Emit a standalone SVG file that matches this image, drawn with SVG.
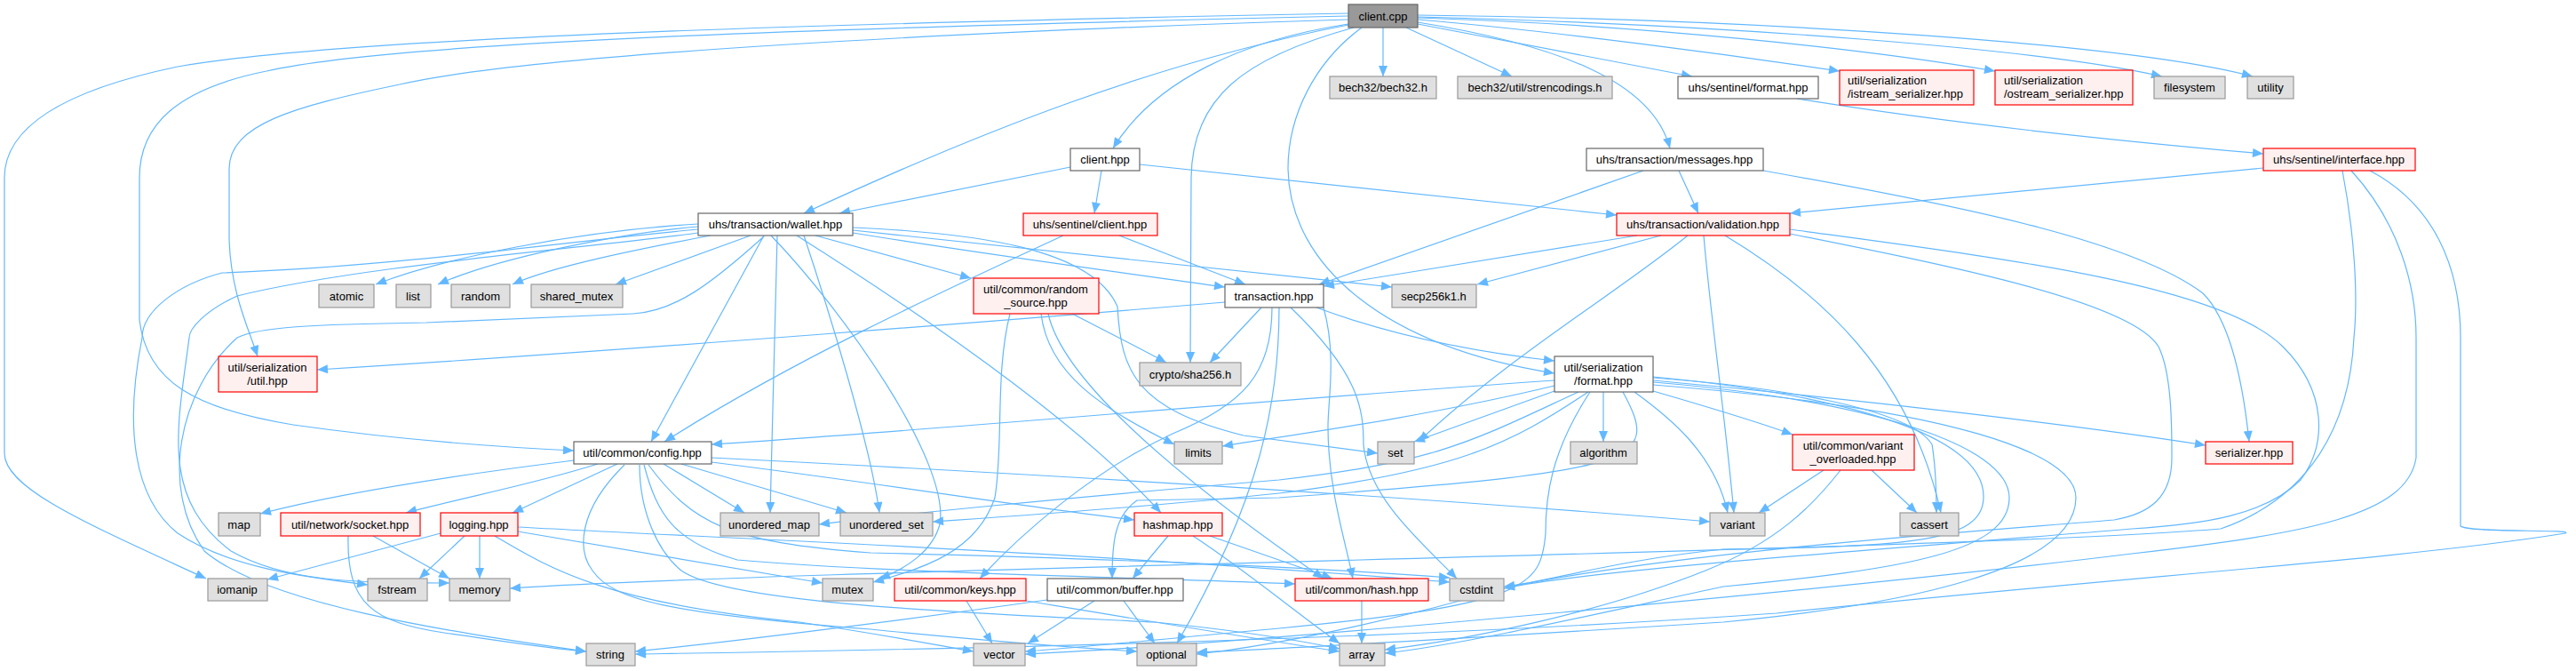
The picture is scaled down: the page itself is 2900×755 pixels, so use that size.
<svg xmlns="http://www.w3.org/2000/svg" width="2900" height="755" viewBox="0 0 2900 755">
<style>
.e{fill:none;stroke:#63b8ff;stroke-width:1.2;marker-end:url(#ah)}
.n text{font-family:"Liberation Sans",Arial,sans-serif;font-size:13px;text-anchor:middle;fill:#000}
.root rect{fill:#999999;stroke:#666666}
.w rect{fill:#ffffff;stroke:#666666}
.r rect{fill:#fff0f0;stroke:#ff0000}
.g rect{fill:#e0e0e0;stroke:#999999}
rect{stroke-width:1.2}
</style>
<defs>
<marker id="ah" viewBox="0 0 12 10" refX="12" refY="5" markerWidth="13" markerHeight="10" orient="auto" markerUnits="userSpaceOnUse"><path d="M0,0 L12,5 L0,10 z" fill="#63b8ff"/></marker>
</defs>
<rect width="2900" height="755" fill="#ffffff"/>
<g id="edges">
<path class="e" d="M1518,27 C1400,45 1300,90 1253,167"/>
<path class="e" d="M1557,31 L1557,86"/>
<path class="e" d="M1583,31 L1702,86"/>
<path class="e" d="M1596,27 L1905,86"/>
<path class="e" d="M1596,22 C1750,35 1950,62 2071,80"/>
<path class="e" d="M1596,20 C1850,28 2100,55 2246,80"/>
<path class="e" d="M1596,19 C1950,28 2300,55 2434,86"/>
<path class="e" d="M1596,17 C2000,22 2400,50 2536,86"/>
<path class="e" d="M1596,25 C1750,50 1860,90 1880,167"/>
<path class="e" d="M1518,28 C1300,70 1100,150 905,240"/>
<path class="e" d="M1524,31 C1400,65 1342,110 1341,200 L1340,408"/>
<path class="e" d="M1533,31 C1480,70 1450,130 1450,190 C1452,300 1560,390 1750,420"/>
<path class="e" d="M1518,22 C1100,35 600,60 450,95 C330,120 258,140 258,190 L258,270 C260,330 280,370 290,401"/>
<path class="e" d="M1518,18 C1000,30 450,45 300,80 C200,100 157,140 157,200 L157,360 C165,430 220,460 330,478 C450,495 560,503 646,507"/>
<path class="e" d="M1518,15 C1000,25 400,40 200,75 C80,100 5,140 5,200 L5,510 C5,550 100,590 232,651"/>
<path class="e" d="M1205,188 L945,240"/>
<path class="e" d="M1240,192 L1232,240"/>
<path class="e" d="M1283,185 L1820,242"/>
<path class="e" d="M2023,111 C2200,140 2400,160 2548,173"/>
<path class="e" d="M1890,192 L1912,240"/>
<path class="e" d="M1850,192 L1485,320"/>
<path class="e" d="M1985,192 C2200,230 2400,270 2480,330 C2510,360 2525,430 2532,497"/>
<path class="e" d="M2548,189 L2015,240"/>
<path class="e" d="M2637,192 C2650,260 2655,330 2650,380 C2645,480 2600,560 2500,595 C2200,620 900,640 574,662"/>
<path class="e" d="M2647,192 C2700,250 2720,320 2720,380 L2720,515 C2710,580 2600,600 2400,623 C2100,660 1400,725 1154,736"/>
<path class="e" d="M2668,192 C2740,230 2770,300 2770,380 L2770,592 C2780,600 2900,595 2888,600 C2700,630 2400,648 2000,690 C1500,725 900,733 715,736"/>
<path class="e" d="M1260,265 L1402,320"/>
<path class="e" d="M1197,265 C1100,310 900,400 748,497"/>
<path class="e" d="M786,252 C650,260 500,290 423,320"/>
<path class="e" d="M786,255 C700,262 560,290 493,320"/>
<path class="e" d="M800,265 C720,280 620,300 577,320"/>
<path class="e" d="M845,265 L693,320"/>
<path class="e" d="M918,265 L1093,313"/>
<path class="e" d="M960,262 C1100,285 1250,305 1379,323"/>
<path class="e" d="M960,259 C1200,285 1450,310 1567,323"/>
<path class="e" d="M960,256 C1100,262 1230,280 1258,345 C1262,420 1280,460 1400,490 L1551,510"/>
<path class="e" d="M860,265 L733,497"/>
<path class="e" d="M875,265 L867,577"/>
<path class="e" d="M905,265 C930,340 980,500 990,577"/>
<path class="e" d="M897,265 C1000,330 1200,460 1307,577"/>
<path class="e" d="M868,265 C950,350 1070,520 1058,590 C1050,620 1020,640 990,651"/>
<path class="e" d="M786,258 C650,270 450,300 250,307 C200,320 160,350 160,380 C140,480 150,560 200,600 C260,640 350,650 414,658"/>
<path class="e" d="M786,262 C650,280 400,300 267,333 C230,350 213,370 213,380 C200,480 180,560 260,620 C330,660 430,655 506,656"/>
<path class="e" d="M860,266 C800,320 760,350 713,353 L480,363 C350,365 290,368 267,380 C200,440 180,550 230,620 C300,680 500,710 660,733"/>
<path class="e" d="M1379,340 C1200,355 700,395 357,416"/>
<path class="e" d="M1420,346 L1362,408"/>
<path class="e" d="M1482,346 C1560,375 1650,395 1750,406"/>
<path class="e" d="M1432,346 C1432,420 1400,455 1320,488 C1230,530 1150,600 1103,651"/>
<path class="e" d="M1440,346 C1440,450 1420,560 1325,724"/>
<path class="e" d="M1490,346 C1505,400 1495,450 1495,480 C1495,550 1515,610 1523,651"/>
<path class="e" d="M1453,346 C1530,420 1535,460 1535,500 C1540,560 1600,610 1640,651"/>
<path class="e" d="M1207,353 C1240,370 1280,390 1313,408"/>
<path class="e" d="M1172,353 C1180,420 1240,460 1322,500"/>
<path class="e" d="M1180,353 C1195,420 1300,520 1490,651"/>
<path class="e" d="M1137,353 C1120,420 1130,500 1120,560 C1100,620 1040,640 983,655"/>
<path class="e" d="M1843,265 L1490,322"/>
<path class="e" d="M1870,265 L1663,320"/>
<path class="e" d="M1900,265 C1820,330 1700,400 1597,497"/>
<path class="e" d="M1918,265 C1925,350 1940,450 1952,577"/>
<path class="e" d="M1942,265 C2050,330 2150,420 2185,577"/>
<path class="e" d="M2015,263 C2200,300 2400,340 2430,390 C2445,420 2445,480 2445,515 C2445,560 2420,578 2380,585 C2200,600 1900,620 1700,660 C1600,690 1450,725 1347,736"/>
<path class="e" d="M2015,258 C2250,290 2500,320 2570,390 C2620,440 2620,500 2590,540 C2550,580 2480,590 2400,595 C2100,620 1800,640 1693,662"/>
<path class="e" d="M1750,428 C1400,452 1000,488 801,500"/>
<path class="e" d="M1750,434 C1600,470 1450,490 1376,502"/>
<path class="e" d="M1750,440 L1592,497"/>
<path class="e" d="M1805,441 L1805,497"/>
<path class="e" d="M1861,440 C1930,460 1980,475 2018,489"/>
<path class="e" d="M1861,428 C2100,450 2350,480 2483,501"/>
<path class="e" d="M1840,441 C1880,470 1930,510 1945,577"/>
<path class="e" d="M1861,425 C2000,435 2150,460 2175,500 C2180,530 2180,560 2180,577"/>
<path class="e" d="M1777,441 C1660,495 1620,520 1440,540 C1200,560 1000,580 922,590"/>
<path class="e" d="M1788,441 C1700,500 1640,530 1440,555 C1300,570 1150,580 1050,587"/>
<path class="e" d="M1827,441 C1870,520 1850,530 1440,560 L1280,563 C1255,580 1252,610 1252,651"/>
<path class="e" d="M1790,441 C1745,510 1740,560 1740,600 C1735,660 1720,680 1440,707 C1300,720 1200,730 1154,733"/>
<path class="e" d="M1861,424 C2080,445 2235,490 2233,560 C2232,610 2150,615 1940,618 C1820,630 1740,655 1693,660"/>
<path class="e" d="M1861,430 C2100,450 2262,500 2262,560 C2262,620 2150,640 1940,660 C1800,690 1650,725 1559,735"/>
<path class="e" d="M1861,433 C2200,460 2337,510 2337,560 C2337,640 2150,680 1940,700 C1700,715 1450,730 1347,734"/>
<path class="e" d="M2053,529 L1980,577"/>
<path class="e" d="M2107,529 L2158,577"/>
<path class="e" d="M2072,529 C2040,570 2000,610 1920,642 C1800,690 1650,720 1559,731"/>
<path class="e" d="M646,518 C550,530 400,550 293,578"/>
<path class="e" d="M673,522 C600,545 520,560 457,577"/>
<path class="e" d="M695,522 L577,577"/>
<path class="e" d="M747,522 L838,577"/>
<path class="e" d="M767,522 L953,577"/>
<path class="e" d="M801,515 C1200,535 1600,560 1925,587"/>
<path class="e" d="M801,520 C1000,545 1150,570 1277,585"/>
<path class="e" d="M703,523 C650,575 650,620 667,642 C690,675 750,690 980,708 C1100,720 1200,728 1280,733"/>
<path class="e" d="M720,523 C720,575 740,620 767,642 C820,680 1100,690 1300,700 C1400,710 1460,720 1508,730"/>
<path class="e" d="M725,523 C740,580 760,610 830,630 C1000,645 1300,650 1458,657"/>
<path class="e" d="M730,523 C780,590 820,610 980,622 C1300,630 1500,640 1632,650"/>
<path class="e" d="M496,600 L301,652"/>
<path class="e" d="M523,603 L472,651"/>
<path class="e" d="M540,603 L540,651"/>
<path class="e" d="M583,598 L926,656"/>
<path class="e" d="M557,603 C620,640 680,678 900,700 C1000,715 1050,725 1096,733"/>
<path class="e" d="M583,593 C800,605 1200,620 1632,655"/>
<path class="e" d="M420,603 L506,651"/>
<path class="e" d="M392,603 C390,680 420,700 500,712 C570,722 620,730 660,733"/>
<path class="e" d="M1088,676 L1117,724"/>
<path class="e" d="M1155,676 C1300,700 1420,720 1508,733"/>
<path class="e" d="M1232,676 L1157,724"/>
<path class="e" d="M1265,676 L1300,724"/>
<path class="e" d="M1179,675 C1000,700 800,725 715,733"/>
<path class="e" d="M1315,603 L1275,651"/>
<path class="e" d="M1362,603 L1500,651"/>
<path class="e" d="M1343,603 C1400,640 1460,690 1508,724"/>
<path class="e" d="M1533,676 L1533,724"/>
</g>
<g id="n_client_cpp" class="n root"><rect x="1518" y="5" width="78" height="26"/><text x="1557" y="23">client.cpp</text></g>
<g id="n_bech32" class="n g"><rect x="1497" y="86" width="120" height="25"/><text x="1557" y="103">bech32/bech32.h</text></g>
<g id="n_strenc" class="n g"><rect x="1641" y="86" width="174" height="25"/><text x="1728" y="103">bech32/util/strencodings.h</text></g>
<g id="n_sent_format" class="n w"><rect x="1889" y="86" width="158" height="25"/><text x="1968" y="103">uhs/sentinel/format.hpp</text></g>
<g id="n_istream" class="n r"><rect x="2071" y="79" width="151" height="39"/><text x="2080" y="95" style="text-anchor:start">util/serialization</text><text x="2080" y="110" style="text-anchor:start">/istream_serializer.hpp</text></g>
<g id="n_ostream" class="n r"><rect x="2246" y="79" width="155" height="39"/><text x="2256" y="95" style="text-anchor:start">util/serialization</text><text x="2256" y="110" style="text-anchor:start">/ostream_serializer.hpp</text></g>
<g id="n_filesystem" class="n g"><rect x="2425" y="86" width="80" height="25"/><text x="2465" y="103">filesystem</text></g>
<g id="n_utility" class="n g"><rect x="2530" y="86" width="52" height="25"/><text x="2556" y="103">utility</text></g>
<g id="n_client_hpp" class="n w"><rect x="1205" y="167" width="78" height="25"/><text x="1244" y="184">client.hpp</text></g>
<g id="n_messages" class="n w"><rect x="1786" y="167" width="199" height="25"/><text x="1885" y="184">uhs/transaction/messages.hpp</text></g>
<g id="n_interface" class="n r"><rect x="2548" y="167" width="171" height="25"/><text x="2633" y="184">uhs/sentinel/interface.hpp</text></g>
<g id="n_wallet" class="n w"><rect x="786" y="240" width="174" height="25"/><text x="873" y="257">uhs/transaction/wallet.hpp</text></g>
<g id="n_sent_client" class="n r"><rect x="1152" y="240" width="151" height="25"/><text x="1227" y="257">uhs/sentinel/client.hpp</text></g>
<g id="n_validation" class="n r"><rect x="1820" y="240" width="195" height="25"/><text x="1917" y="257">uhs/transaction/validation.hpp</text></g>
<g id="n_atomic" class="n g"><rect x="359" y="320" width="62" height="26"/><text x="390" y="338">atomic</text></g>
<g id="n_list" class="n g"><rect x="446" y="320" width="39" height="26"/><text x="465" y="338">list</text></g>
<g id="n_random" class="n g"><rect x="508" y="320" width="66" height="26"/><text x="541" y="338">random</text></g>
<g id="n_shared_mutex" class="n g"><rect x="598" y="320" width="103" height="26"/><text x="649" y="338">shared_mutex</text></g>
<g id="n_random_source" class="n r"><rect x="1096" y="313" width="141" height="40"/><text x="1166" y="330">util/common/random</text><text x="1166" y="345">_source.hpp</text></g>
<g id="n_transaction" class="n w"><rect x="1379" y="320" width="111" height="26"/><text x="1434" y="338">transaction.hpp</text></g>
<g id="n_secp" class="n g"><rect x="1567" y="320" width="95" height="26"/><text x="1614" y="338">secp256k1.h</text></g>
<g id="n_ser_util" class="n r"><rect x="246" y="401" width="111" height="40"/><text x="301" y="418">util/serialization</text><text x="301" y="433">/util.hpp</text></g>
<g id="n_format" class="n w"><rect x="1750" y="401" width="111" height="40"/><text x="1805" y="418">util/serialization</text><text x="1805" y="433">/format.hpp</text></g>
<g id="n_sha256" class="n g"><rect x="1283" y="408" width="114" height="26"/><text x="1340" y="426">crypto/sha256.h</text></g>
<g id="n_limits" class="n g"><rect x="1322" y="497" width="54" height="25"/><text x="1349" y="514">limits</text></g>
<g id="n_set" class="n g"><rect x="1551" y="497" width="41" height="25"/><text x="1571" y="514">set</text></g>
<g id="n_algorithm" class="n g"><rect x="1768" y="497" width="75" height="25"/><text x="1805" y="514">algorithm</text></g>
<g id="n_config" class="n w"><rect x="646" y="497" width="155" height="25"/><text x="723" y="514">util/common/config.hpp</text></g>
<g id="n_var_over" class="n r"><rect x="2018" y="489" width="137" height="40"/><text x="2086" y="506">util/common/variant</text><text x="2086" y="521">_overloaded.hpp</text></g>
<g id="n_serializer" class="n r"><rect x="2483" y="497" width="98" height="25"/><text x="2532" y="514">serializer.hpp</text></g>
<g id="n_map" class="n g"><rect x="246" y="577" width="47" height="26"/><text x="269" y="595">map</text></g>
<g id="n_socket" class="n r"><rect x="316" y="577" width="157" height="26"/><text x="394" y="595">util/network/socket.hpp</text></g>
<g id="n_logging" class="n r"><rect x="496" y="577" width="87" height="26"/><text x="539" y="595">logging.hpp</text></g>
<g id="n_umap" class="n g"><rect x="811" y="577" width="111" height="26"/><text x="866" y="595">unordered_map</text></g>
<g id="n_uset" class="n g"><rect x="946" y="577" width="104" height="26"/><text x="998" y="595">unordered_set</text></g>
<g id="n_hashmap" class="n r"><rect x="1277" y="577" width="99" height="26"/><text x="1326" y="595">hashmap.hpp</text></g>
<g id="n_variant" class="n g"><rect x="1925" y="577" width="62" height="26"/><text x="1956" y="595">variant</text></g>
<g id="n_cassert" class="n g"><rect x="2139" y="577" width="66" height="26"/><text x="2172" y="595">cassert</text></g>
<g id="n_iomanip" class="n g"><rect x="234" y="651" width="67" height="25"/><text x="267" y="668">iomanip</text></g>
<g id="n_fstream" class="n g"><rect x="414" y="651" width="67" height="25"/><text x="447" y="668">fstream</text></g>
<g id="n_memory" class="n g"><rect x="506" y="651" width="68" height="25"/><text x="540" y="668">memory</text></g>
<g id="n_mutex" class="n g"><rect x="926" y="651" width="57" height="25"/><text x="954" y="668">mutex</text></g>
<g id="n_keys" class="n r"><rect x="1007" y="651" width="148" height="25"/><text x="1081" y="668">util/common/keys.hpp</text></g>
<g id="n_buffer" class="n w"><rect x="1179" y="651" width="153" height="25"/><text x="1255" y="668">util/common/buffer.hpp</text></g>
<g id="n_hash" class="n r"><rect x="1458" y="651" width="150" height="25"/><text x="1533" y="668">util/common/hash.hpp</text></g>
<g id="n_cstdint" class="n g"><rect x="1632" y="651" width="61" height="25"/><text x="1662" y="668">cstdint</text></g>
<g id="n_string" class="n g"><rect x="660" y="724" width="55" height="25"/><text x="687" y="741">string</text></g>
<g id="n_vector" class="n g"><rect x="1096" y="724" width="58" height="25"/><text x="1125" y="741">vector</text></g>
<g id="n_optional" class="n g"><rect x="1280" y="724" width="67" height="25"/><text x="1313" y="741">optional</text></g>
<g id="n_array" class="n g"><rect x="1508" y="724" width="51" height="25"/><text x="1533" y="741">array</text></g>
</svg>
